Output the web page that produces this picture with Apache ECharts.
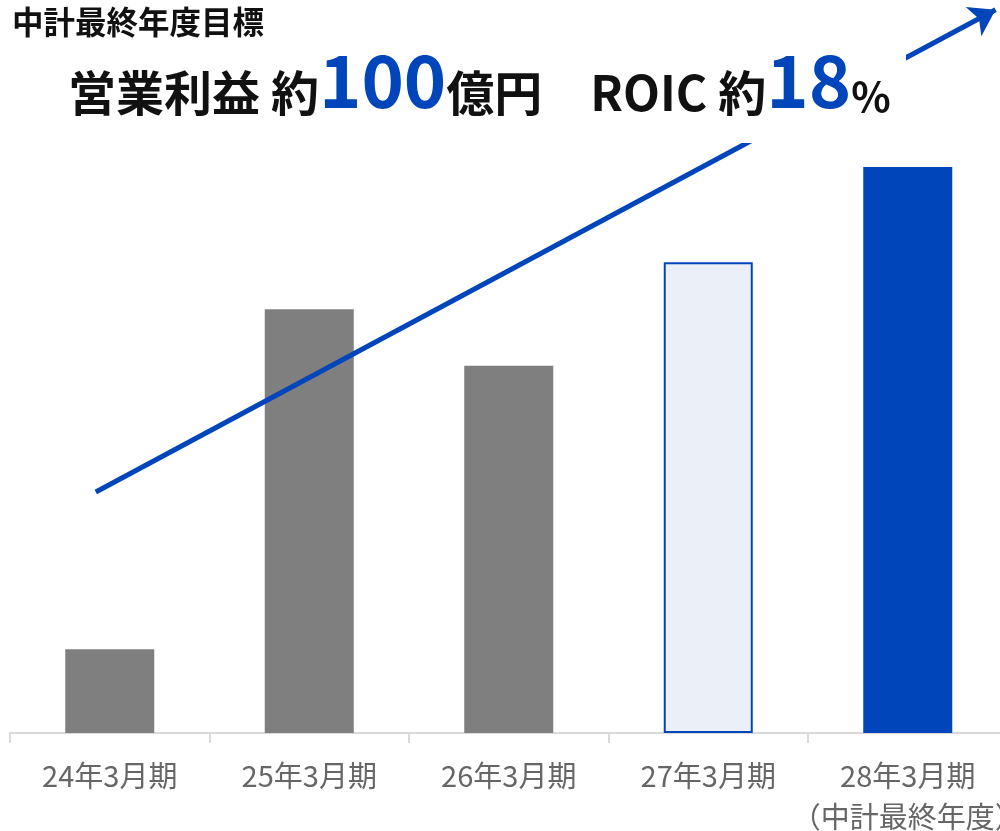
<!DOCTYPE html>
<html>
<head>
<meta charset="utf-8">
<script src="https://cdn.jsdelivr.net/npm/echarts@6/dist/echarts.min.js"></script>
<style>
  html, body { margin: 0; padding: 0; background: #fff; }
  #chart { width: 1000px; height: 831px; }
</style>
</head>
<body>
<div id="chart"></div>
<script>
  var categories = ['24年3月期', '25年3月期', '26年3月期', '27年3月期', '28年3月期\n（中計最終年度）'];
  // 営業利益 (億円), 28年3月期 = 100
  var profit = [14.8, 74.9, 64.9, 83.2, 100];
  // trend arrow, in category-index / value coordinates
  var trendArrow = [[-0.07, 42.6], [4.44, 127.8]];

  var blue = '#0046BA';
  var gray = '#7F7F7F';
  var font = '"Noto Sans CJK JP", "Noto Sans", sans-serif';

  var barStyles = [
    { color: gray },
    { color: gray },
    { color: gray },
    { color: '#EBEFF8', borderColor: blue, borderWidth: 2 },
    { color: blue }
  ];

  var myChart = echarts.init(document.getElementById('chart'));

  var option = {
    backgroundColor: '#fff',
    animation: false,
    textStyle: { fontFamily: font },
    title: [{
      text: '中計最終年度目標',
      left: 7,
      top: 1,
      z: 110,
      textStyle: { fontSize: 31.5, fontWeight: 'bold', color: '#111', fontFamily: font }
    }, {
      text: '{a|営業利益 約}{b|100}{a|億円　ROIC 約}{b|18}{c|%}',
      left: 63,
      top: 32,
      z: 110,
      textStyle: {
        fontFamily: font,
        rich: {
          a: { fontSize: 48, fontWeight: 'bold', color: '#111', fontFamily: font, verticalAlign: 'bottom', lineHeight: 80 },
          b: { fontSize: 72, fontWeight: 'bold', color: blue, fontFamily: font, verticalAlign: 'bottom', lineHeight: 80 },
          c: { fontSize: 41, fontWeight: 'bold', color: '#111', fontFamily: font, verticalAlign: 'bottom', lineHeight: 78 }
        }
      }
    }],
    graphic: [{
      type: 'rect',
      z: 100,
      shape: { x: 60, y: 40, width: 846, height: 103 },
      style: { fill: '#fff' }
    }],
    grid: {
      left: 10,
      top: 3,
      bottom: 98,
      width: 997.5,
      containLabel: false,
      outerBoundsMode: 'none'
    },
    xAxis: [{
      type: 'category',
      data: categories,
      axisLine: { show: true, lineStyle: { color: '#D9D9D9', width: 2 } },
      axisTick: { show: true, length: 10, interval: 0, lineStyle: { color: '#D9D9D9', width: 2 } },
      axisLabel: {
        interval: 0,
        margin: 22,
        fontSize: 29,
        lineHeight: 41,
        color: '#666',
        fontFamily: font
      }
    }, {
      type: 'value',
      min: -0.5,
      max: 4.5,
      show: false
    }],
    yAxis: {
      type: 'value',
      min: 0,
      max: 129,
      show: false,
      splitLine: { show: false }
    },
    series: [{
      type: 'bar',
      barWidth: 89,
      data: profit.map(function (v, i) {
        return { value: v, itemStyle: barStyles[i] };
      })
    }, {
      type: 'lines',
      coordinateSystem: 'cartesian2d',
      xAxisIndex: 1,
      yAxisIndex: 0,
      z: 5,
      symbol: ['none', 'arrow'],
      symbolSize: 25,
      lineStyle: { color: blue, width: 5, opacity: 1 },
      data: [{ coords: trendArrow }]
    }]
  };

  myChart.setOption(option, true);
</script>
</body>
</html>
